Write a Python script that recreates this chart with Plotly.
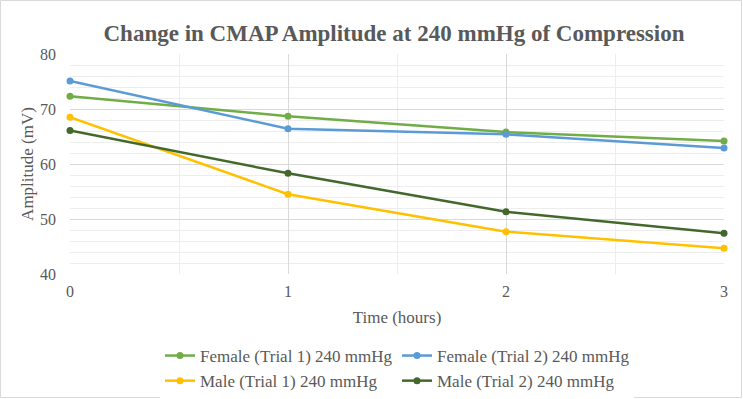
import plotly.graph_objects as go

hours = [0, 1, 2, 3]
female_t1 = [72.3, 68.7, 65.8, 64.2]
female_t2 = [75.1, 66.4, 65.4, 62.9]
male_t1 = [68.5, 54.5, 47.7, 44.7]
male_t2 = [66.1, 58.3, 51.3, 47.4]

series = [
    ("Female (Trial 1) 240 mmHg", female_t1, "#70AD47"),
    ("Female (Trial 2) 240 mmHg", female_t2, "#5B9BD5"),
    ("Male (Trial 1) 240 mmHg", male_t1, "#FFC000"),
    ("Male (Trial 2) 240 mmHg", male_t2, "#43682B"),
]

FONT = "Liberation Serif, Times New Roman, serif"
GRAY = "#595959"

W, H = 743, 399
L, R, T, B = 70, 19, 54, 125
PW, PH = W - L - R, H - T - B

fig = go.Figure()
for name, vals, col in series:
    fig.add_trace(go.Scatter(
        x=hours, y=vals, name=name, mode="lines+markers",
        line=dict(color=col, width=2.5),
        marker=dict(color=col, size=7),
        cliponaxis=False,
    ))

fig.update_layout(
    width=W, height=H,
    paper_bgcolor="white", plot_bgcolor="white",
    margin=dict(l=L, r=R, t=T, b=B, autoexpand=False),
    title=dict(text="<b>Change in CMAP Amplitude at 240 mmHg of Compression</b>",
               x=394 / W, xanchor="center", y=1 - 33 / H, yanchor="middle",
               font=dict(family=FONT, size=23, color=GRAY)),
    font=dict(family=FONT, color=GRAY, size=17),
    showlegend=True,
    legend=dict(orientation="h", x=0.5, xanchor="center",
                yref="container", y=1 - 338 / H, yanchor="top",
                entrywidth=192, entrywidthmode="pixels",
                font=dict(family=FONT, size=17, color=GRAY),
                tracegroupgap=0, itemwidth=30),
    shapes=[dict(type="rect", xref="paper", yref="paper",
                 x0=(0.5 - L) / PW, x1=(W - 1.5 - L) / PW,
                 y0=-(H - 1.5 - T - PH) / PH, y1=1 + (T - 0.5) / PH,
                 line=dict(color="#D9D9D9", width=1), layer="below")],
)

fig.update_xaxes(
    range=[0, 3], tickmode="array", tickvals=hours, ticktext=[str(h) for h in hours],
    showgrid=True, gridcolor="#D9D9D9", gridwidth=1,
    minor=dict(dtick=0.5, showgrid=True, gridcolor="#EDEDED", gridwidth=1),
    zeroline=False, showline=False, ticks="",
    tickfont=dict(family=FONT, size=16, color=GRAY),
    ticklabelstandoff=6,
    title=dict(text="Time (hours)", font=dict(family=FONT, size=17, color=GRAY), standoff=12),
)
fig.update_yaxes(
    range=[40, 80], dtick=10, tick0=40,
    showgrid=True, gridcolor="#D9D9D9", gridwidth=1,
    minor=dict(dtick=2, showgrid=True, gridcolor="#EDEDED", gridwidth=1),
    zeroline=False, showline=False, ticks="",
    tickfont=dict(family=FONT, size=16, color=GRAY),
    ticklabelstandoff=13,
    title=dict(text="Amplitude (mV)", font=dict(family=FONT, size=17, color=GRAY), standoff=2),
)

fig.write_html("out.html", config={"displayModeBar": False},
               post_script="document.body.style.margin='0';document.body.style.padding='0';")
